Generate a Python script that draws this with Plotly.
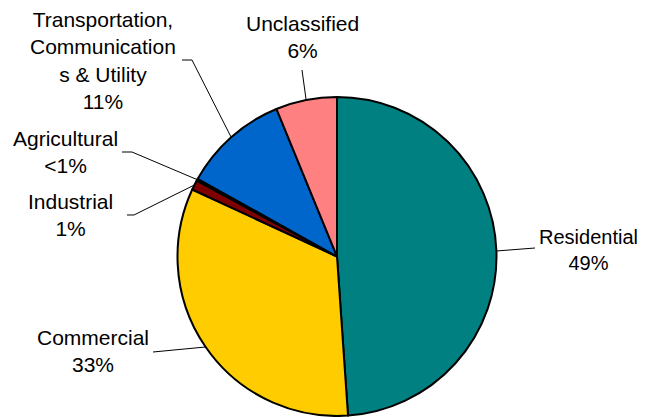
import math
import plotly.graph_objects as go

# ---- data ----
categories = ["Residential", "Commercial", "Industrial", "Agricultural",
              "Transportation, Communications & Utility", "Unclassified"]
values = [48.9, 33.0, 1.0, 0.2, 10.7, 6.2]
label_texts = ["Residential<br>49%", "Commercial<br>33%", "Industrial<br>1%",
               "Agricultural<br><1%",
               "Transportation,<br>Communication<br>s & Utility<br>11%",
               "Unclassified<br>6%"]
colors = ["#008080", "#FFCC00", "#800000", "#339933", "#0066CC", "#FF8080"]

# ---- layout (page pixel geometry; page body has 8px default margin) ----
OFF = 8
W, H = 645 - OFF, 417 - OFF
CX, CY, R = 337.0, 256.5, 159.5
label_pos = [(588, 250), (93, 351), (70, 215), (65, 152), (103, 60), (302, 37)]
label_size = [20, 21, 21, 21, 21, 21]
leader_start = [
    [(535, 248)],
    [(153, 352)],
    [(127, 215), (134, 215)],
    [(122, 152), (132, 152)],
    [(182, 60), (192, 60)],
    [(302, 70)],
]

def px(x):
    return (x - OFF) / W

def py(y):
    return 1 - (y - OFF) / H

fig = go.Figure(go.Pie(
    labels=categories, values=values, sort=False, direction="clockwise",
    rotation=0, textinfo="none", hoverinfo="label+percent",
    marker=dict(colors=colors, line=dict(color="black", width=2)),
    domain=dict(x=[px(CX - R), px(CX + R)], y=[max(0, py(CY + R)), py(CY - R)]),
    showlegend=False,
))

total = sum(values)
cum = 0.0
shapes = []
annotations = []
for i, v in enumerate(values):
    mid = (cum + v / 2) / total * 2 * math.pi
    cum += v
    ex = CX + R * math.sin(mid)
    ey = CY - R * math.cos(mid)
    pts = leader_start[i] + [(ex, ey)]
    path = "M " + " L ".join(f"{px(a):.5f},{py(b):.5f}" for a, b in pts)
    shapes.append(dict(type="path", path=path, xref="paper", yref="paper",
                       line=dict(color="black", width=1)))
    lx, ly = label_pos[i]
    annotations.append(dict(text=label_texts[i], x=px(lx), y=py(ly),
                            xref="paper", yref="paper", xanchor="center",
                            yanchor="middle", showarrow=False, align="center",
                            font=dict(family="Liberation Sans, Arial",
                                      size=label_size[i], color="black")))

fig.update_layout(width=W, height=H, margin=dict(l=0, r=0, t=0, b=0),
                  paper_bgcolor="white", plot_bgcolor="white",
                  shapes=shapes, annotations=annotations)

fig.write_html("out.html")
